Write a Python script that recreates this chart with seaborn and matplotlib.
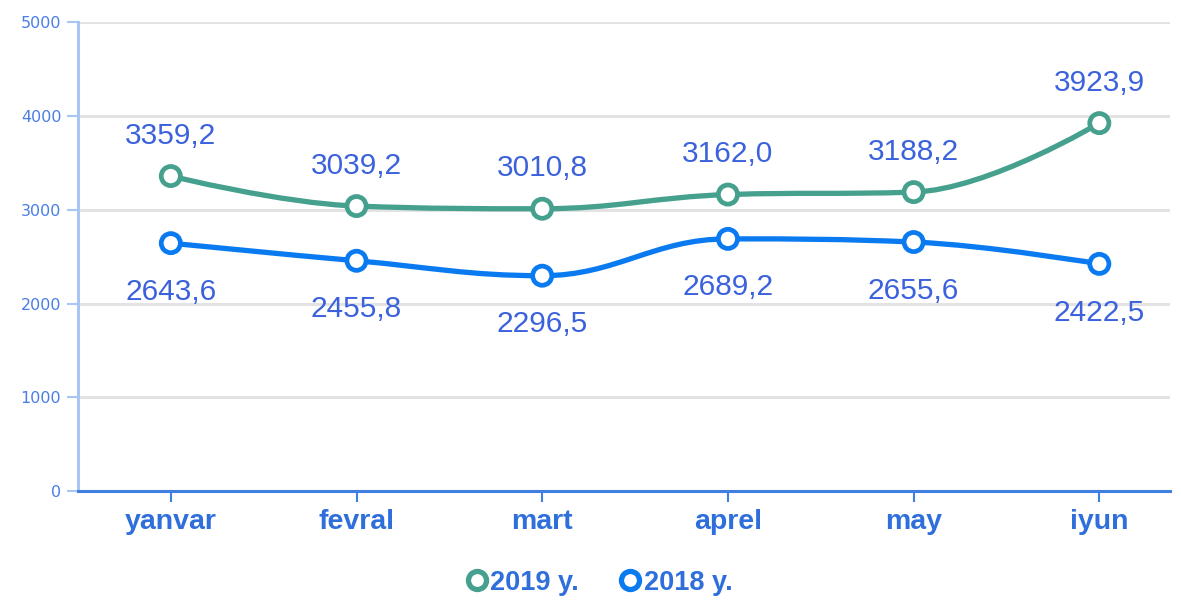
import numpy as np
import pandas as pd
import seaborn as sns
import matplotlib.pyplot as plt
from matplotlib.path import Path
from matplotlib.patches import PathPatch
from matplotlib.lines import Line2D

# ------------------------------------------------------------
# Data
# ------------------------------------------------------------
months = ["yanvar", "fevral", "mart", "aprel", "may", "iyun"]
vals_2019 = [3359.2, 3039.2, 3010.8, 3162.0, 3188.2, 3923.9]
vals_2018 = [2643.6, 2455.8, 2296.5, 2689.2, 2655.6, 2422.5]
series_names = ["2019 y.", "2018 y."]

GREEN = "#45a08d"
BLUE = "#0a7af0"
LABEL_BLUE = "#3b62dc"
TICK_BLUE = "#4a7de6"

df = pd.DataFrame({
    "month": months * 2,
    "x": list(range(len(months))) * 2,
    "value": vals_2019 + vals_2018,
    "series": [series_names[0]] * len(months) + [series_names[1]] * len(months),
})


def spline_path(xs, ys, smoothing=1.5):
    # highcharts-like spline: bezier control points from neighbours
    n = len(xs)
    left = [None] * n
    right = [None] * n
    denom = smoothing + 1
    for i in range(1, n - 1):
        px, py = xs[i], ys[i]
        lx, ly = xs[i - 1], ys[i - 1]
        nx, ny = xs[i + 1], ys[i + 1]
        lcx = (smoothing * px + lx) / denom
        lcy = (smoothing * py + ly) / denom
        rcx = (smoothing * px + nx) / denom
        rcy = (smoothing * py + ny) / denom
        if rcx != lcx:
            corr = (rcy - lcy) * (rcx - px) / (rcx - lcx) + py - rcy
            lcy += corr
            rcy += corr
        if lcy > ly and lcy > py:
            lcy = max(ly, py); rcy = 2 * py - lcy
        elif lcy < ly and lcy < py:
            lcy = min(ly, py); rcy = 2 * py - lcy
        if rcy > ny and rcy > py:
            rcy = max(ny, py); lcy = 2 * py - rcy
        elif rcy < ny and rcy < py:
            rcy = min(ny, py); lcy = 2 * py - rcy
        left[i] = (lcx, lcy)
        right[i] = (rcx, rcy)
    verts = [(xs[0], ys[0])]
    codes = [Path.MOVETO]
    for i in range(1, n):
        c1 = right[i - 1] or (xs[i - 1], ys[i - 1])
        c2 = left[i] or (xs[i], ys[i])
        verts += [c1, c2, (xs[i], ys[i])]
        codes += [Path.CURVE4] * 3
    return Path(verts, codes)


# ------------------------------------------------------------
# Plot
# ------------------------------------------------------------
sns.set_theme(style="white")
plt.rcParams["font.family"] = ["Liberation Sans", "DejaVu Sans"]

fig = plt.figure(figsize=(11.81, 6.01), dpi=100)
ax = fig.add_axes([0.066, 0.183, 0.9246, 0.780])

palette = {series_names[0]: GREEN, series_names[1]: BLUE}

for name, vals in zip(series_names, [vals_2019, vals_2018]):
    xs = list(range(len(vals)))
    patch = PathPatch(spline_path(xs, vals), facecolor="none",
                      edgecolor=palette[name], lw=3.8, zorder=3,
                      capstyle="round", joinstyle="round")
    ax.add_patch(patch)

sns.scatterplot(data=df, x="x", y="value", hue="series", palette=palette,
                s=190, marker="o", linewidth=3.4,
                legend=False, ax=ax, zorder=4)
# hollow markers: edge in series colour, white fill
for coll in ax.collections:
    ec = coll.get_facecolors()
    coll.set_edgecolors(ec)
    coll.set_facecolors("white")
    coll.set_linewidth(3.4)

# value labels
for i, v in enumerate(vals_2019):
    ax.annotate(f"{v:.1f}".replace(".", ","), (i, v), xytext=(0, 29),
                textcoords="offset points", ha="center", va="center",
                fontsize=21.5, color=LABEL_BLUE, zorder=5)
for i, v in enumerate(vals_2018):
    ax.annotate(f"{v:.1f}".replace(".", ","), (i, v), xytext=(0, -35),
                textcoords="offset points", ha="center", va="center",
                fontsize=21.5, color=LABEL_BLUE, zorder=5)

ax.set_xlim(-0.5, 5.38)
ax.set_ylim(0, 5000)
ax.set_yticks(range(0, 5001, 1000))
ax.set_xticks(range(len(months)))
ax.set_xticklabels(months, fontsize=20.5, fontweight="bold", color="#2f6fdc")
ax.tick_params(axis="y", labelsize=11.5, labelcolor=TICK_BLUE, color="#a9c6f2",
               length=8, width=1.5, left=True, pad=4)
for t in ax.get_yticklabels():
    t.set_family("DejaVu Sans")
ax.tick_params(axis="x", color="#3f7fe0", length=8, width=1.5, bottom=True,
               direction="out", pad=5)
ax.set_xlabel("")
ax.set_ylabel("")

ax.grid(axis="y", color="#e3e3e3", lw=2.2)
ax.grid(axis="x", visible=False)
ax.set_axisbelow(True)

for s in ["top", "right"]:
    ax.spines[s].set_visible(False)
ax.spines["left"].set_color("#a9c6f2")
ax.spines["left"].set_linewidth(2.2)
ax.spines["bottom"].set_color("#3f7fe0")
ax.spines["bottom"].set_linewidth(2.2)
ax.spines["bottom"].set_zorder(3)

handles = [Line2D([], [], marker="o", ls="none", markersize=13,
                  markerfacecolor="white", markeredgecolor=palette[n],
                  markeredgewidth=3.8) for n in series_names]
leg = fig.legend(handles, series_names, loc="center", bbox_to_anchor=(0.505, 0.03),
                 ncol=2, frameon=False, handletextpad=-0.1, columnspacing=1.3,
                 handlelength=1.2, prop={"size": 19.5, "weight": "bold"})
for t in leg.get_texts():
    t.set_color("#2f6fdc")

fig.savefig("out.png", dpi=100)
